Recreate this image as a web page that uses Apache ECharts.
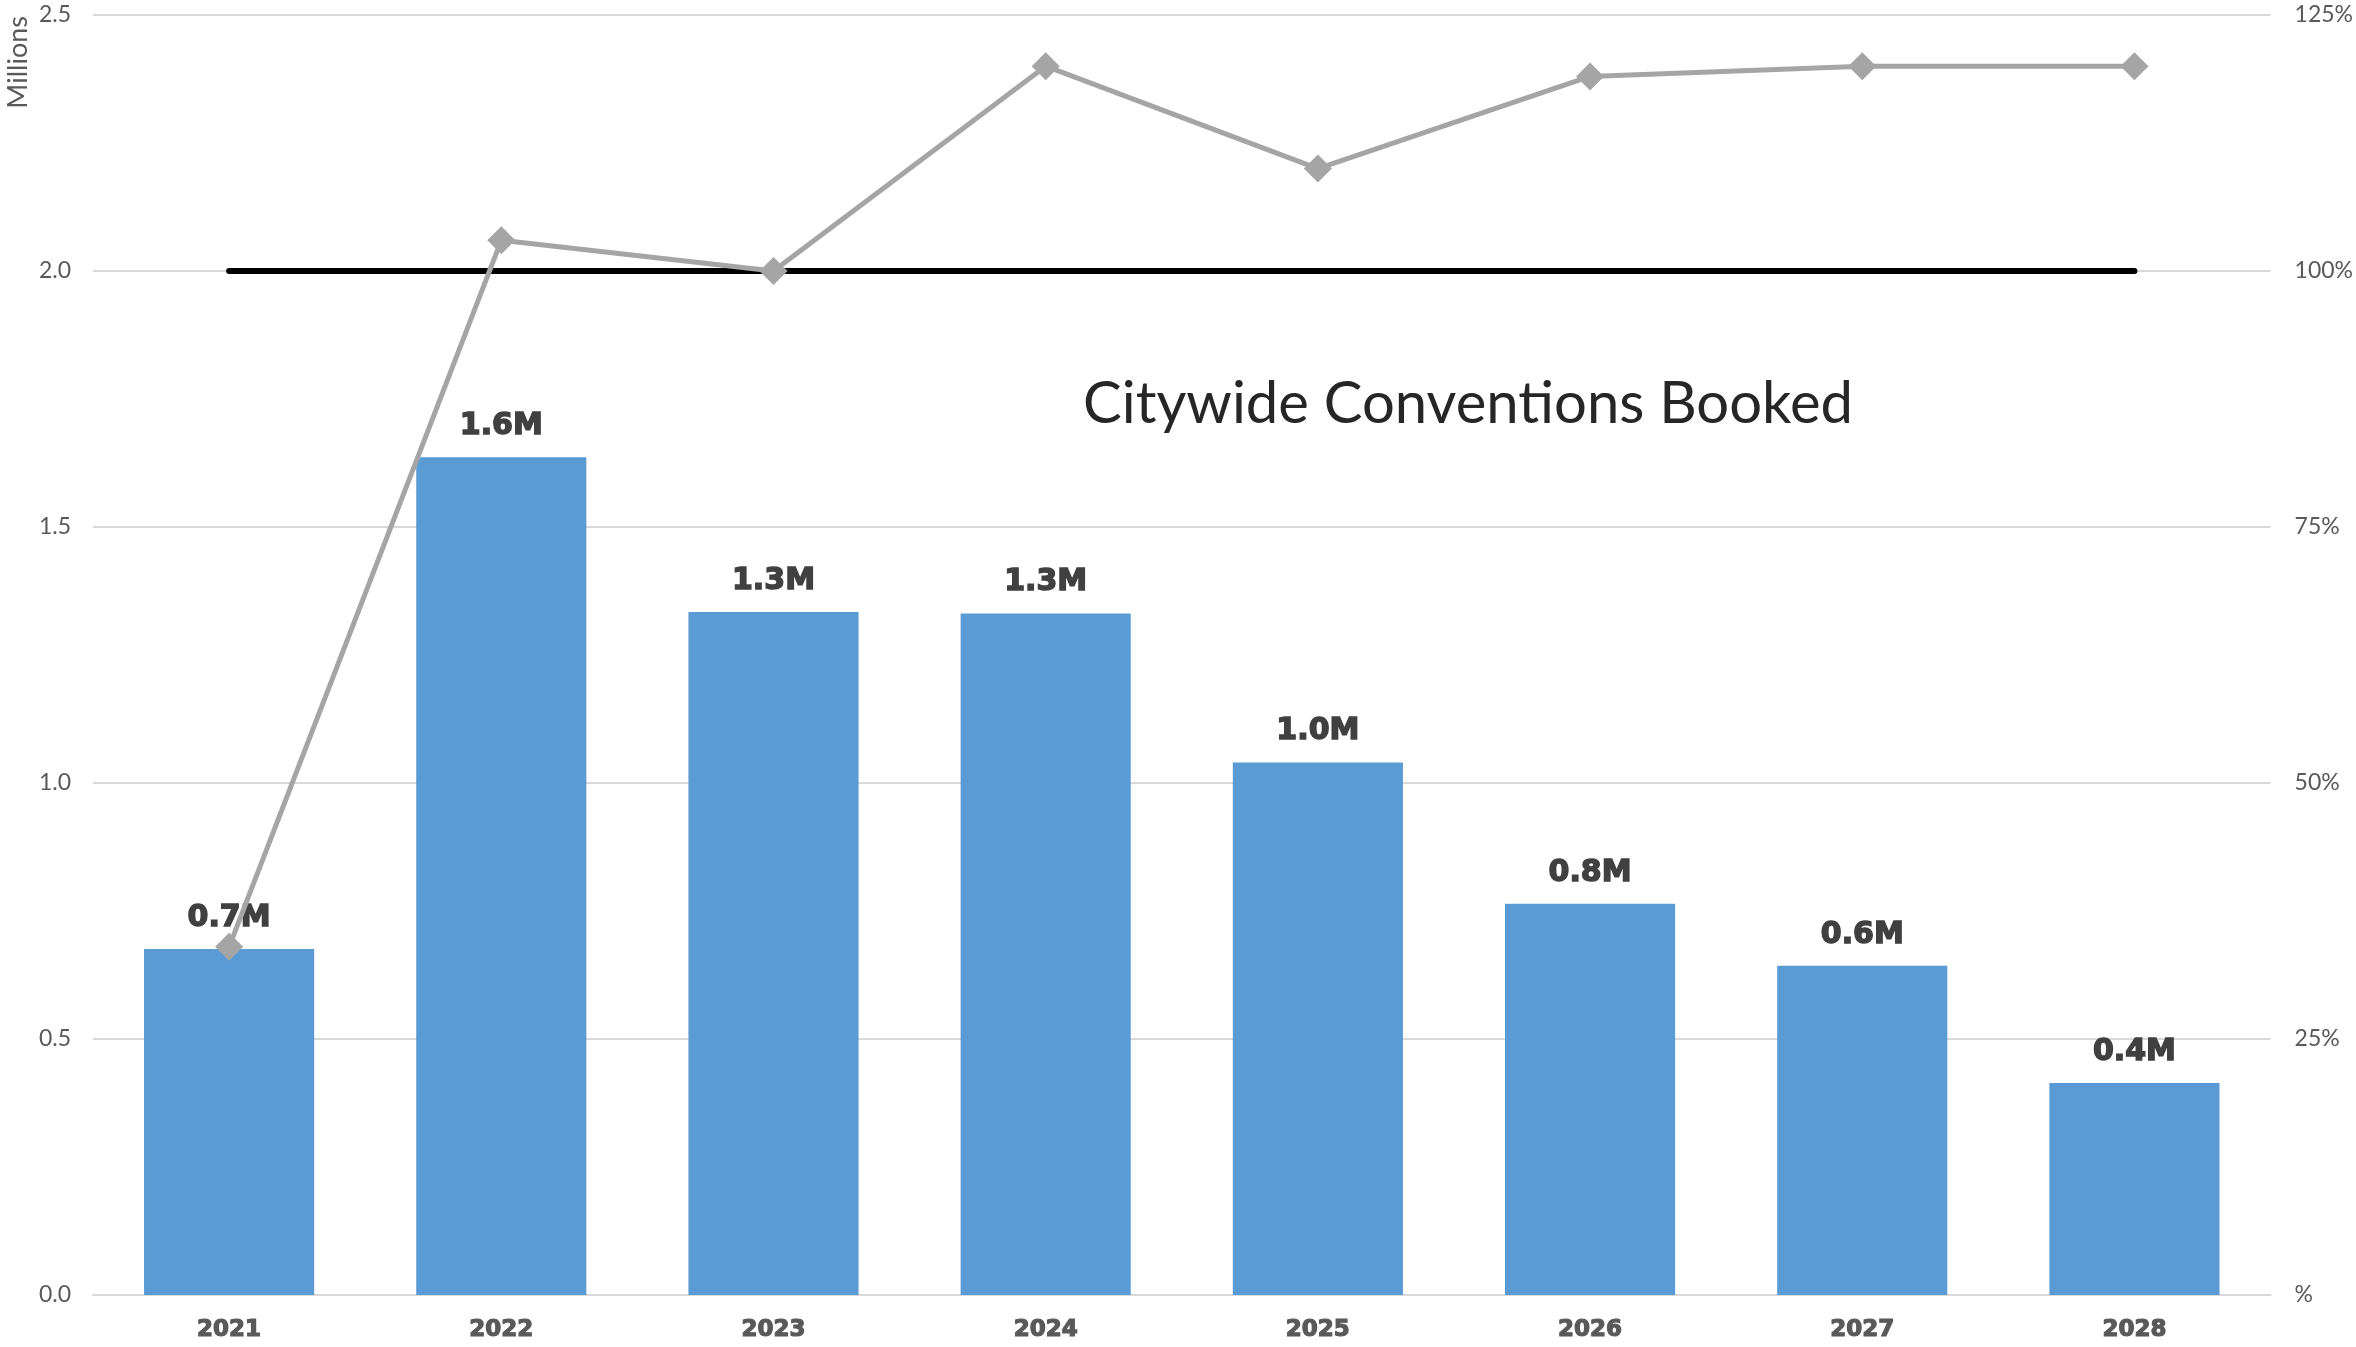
<!DOCTYPE html>
<html>
<head>
<meta charset="utf-8">
<script src="https://cdn.jsdelivr.net/npm/echarts@6/dist/echarts.min.js"></script>
<style>
html,body{margin:0;padding:0;background:#fff;}
#chart{width:2356px;height:1347px;}
</style>
</head>
<body>
<div id="chart"></div>
<script>
const categories = ['2021','2022','2023','2024','2025','2026','2027','2028'];
const bookedMillions = [0.676, 1.636, 1.334, 1.331, 1.040, 0.764, 0.643, 0.414];
const pctOfGoal = [34, 103, 100, 120, 110, 119, 120, 120];
const goalLine = [100, 100, 100, 100, 100, 100, 100, 100];
const leftTicks = [0, 0.5, 1.0, 1.5, 2.0, 2.5];
const rightTicks = [0, 25, 50, 75, 100, 125];

const chart = echarts.init(document.getElementById('chart'));
const gray = '#595959';
chart.setOption({
  backgroundColor: '#ffffff',
  animation: false,
  title: {
    text: 'Citywide Conventions Booked',
    left: 1083,
    top: 375,
    padding: 0,
    textStyle: { fontFamily: 'Lato', fontSize: 58, fontWeight: 'normal', color: '#262626' }
  },
  graphic: [{
    type: 'group',
    x: 18, y: 16,
    rotation: Math.PI / 2,
    children: [{
      type: 'text',
      x: 0, y: 0,
      style: { text: 'Millions', fontFamily: 'Lato', fontSize: 27, fill: gray, align: 'right', verticalAlign: 'middle' }
    }]
  }],
  grid: { left: 93, right: 82, top: 15, bottom: 52, containLabel: false },
  xAxis: {
    type: 'category',
    data: categories,
    axisTick: { show: false },
    axisLine: { lineStyle: { color: '#d9d9d9', width: 2 } },
    axisLabel: { color: gray, fontFamily: 'DejaVu Sans', fontWeight: 'bold', fontSize: 23, margin: 24,
      textBorderColor: gray, textBorderWidth: 1.2 }
  },
  yAxis: [{
    type: 'value',
    min: leftTicks[0], max: leftTicks[leftTicks.length - 1], interval: 0.5,
    axisLine: { show: false }, axisTick: { show: false },
    splitLine: { lineStyle: { color: '#d9d9d9', width: 2 } },
    axisLabel: { color: gray, fontFamily: 'Lato', fontSize: 23, margin: 22, formatter: v => v.toFixed(1) }
  }, {
    type: 'value',
    min: rightTicks[0], max: rightTicks[rightTicks.length - 1], interval: 25,
    axisLine: { show: false }, axisTick: { show: false },
    splitLine: { show: false },
    axisLabel: { color: gray, fontFamily: 'Lato', fontSize: 23, margin: 24, formatter: v => v === 0 ? '%' : v + '%' }
  }],
  series: [{
    type: 'bar',
    data: bookedMillions,
    barCategoryGap: '37.5%',
    itemStyle: { color: '#5b9bd5' },
    z: 2,
    label: {
      show: true, position: 'top', distance: 16,
      fontFamily: 'DejaVu Sans', fontWeight: 'bold', fontSize: 30, color: '#404040',
      textBorderColor: '#404040', textBorderWidth: 1.5,
      formatter: p => p.value.toFixed(1) + 'M'
    }
  }, {
    type: 'line',
    yAxisIndex: 1,
    data: goalLine,
    symbol: 'none',
    lineStyle: { color: '#000000', width: 6, cap: 'round' },
    z: 3
  }, {
    type: 'line',
    yAxisIndex: 1,
    data: pctOfGoal,
    symbol: 'diamond',
    symbolSize: 28,
    itemStyle: { color: '#a5a5a5' },
    lineStyle: { color: '#a5a5a5', width: 5 },
    z: 4
  }]
});
</script>
</body>
</html>
